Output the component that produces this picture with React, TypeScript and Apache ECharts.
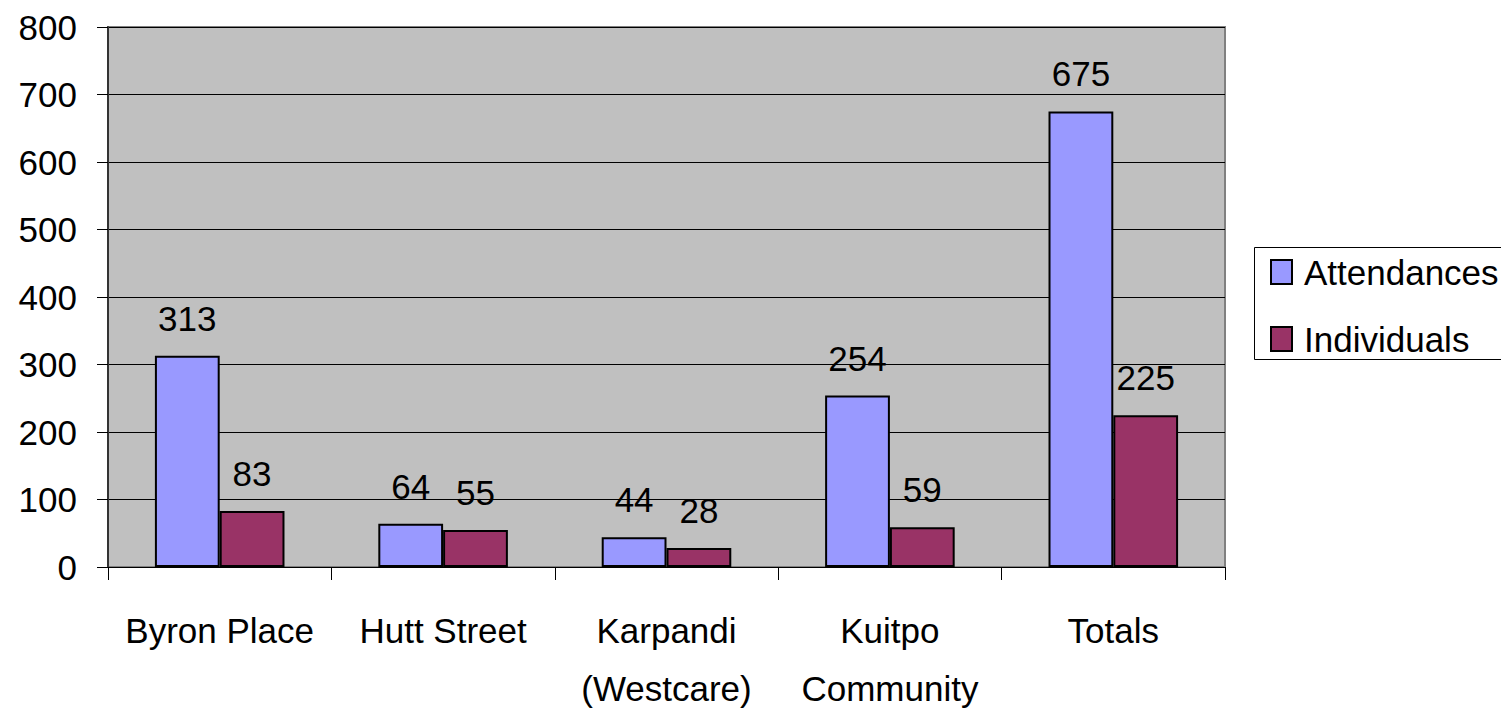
import React, { useEffect, useRef } from "react";
import * as echarts from "echarts";

const categories = ["Byron Place", "Hutt Street", "Karpandi\n(Westcare)", "Kuitpo\nCommunity", "Totals"];
const attendances = [313, 64, 44, 254, 675];
const individuals = [83, 55, 28, 59, 225];
const seriesNames = ["Attendances", "Individuals"];
const yMin = 0;
const yMax = 800;
const yStep = 100;

const FONT = "'Liberation Sans', Arial, sans-serif";
const FS = 35;

export default function App() {
  const ref = useRef<HTMLDivElement>(null);
  useEffect(() => {
    document.body.style.margin = "0";
    if (!ref.current) return;
    const chart = echarts.init(ref.current, null, { renderer: "svg" });
    const labelStyle = {
      show: true,
      position: "top" as const,
      distance: 20,
      fontSize: FS,
      fontFamily: FONT,
      color: "#000",
    };
    chart.setOption({
      animation: false,
      backgroundColor: "#fff",
      textStyle: { fontFamily: FONT },
      grid: {
        left: 108,
        right: 276,
        top: 27,
        bottom: 142,
        outerBoundsMode: "none",
        containLabel: false,
        show: true,
        backgroundColor: "#C0C0C0",
        borderColor: "#808080",
        borderWidth: 2,
      },
      legend: {
        orient: "vertical",
        left: 1265,
        top: 244,
        itemWidth: 21,
        itemHeight: 24,
        itemGap: 21,
        icon: "rect",
        textStyle: {
          fontSize: FS,
          fontFamily: FONT,
          color: "#000",
          lineHeight: 46,
          padding: [0, 0, 0, 7],
        },
        data: seriesNames,
      },
      graphic: [
        {
          type: "rect",
          left: 1252,
          top: 245,
          shape: { width: 248, height: 112 },
          style: { fill: "none", stroke: "#000", lineWidth: 1 },
          z: -1,
        },
      ],
      xAxis: {
        type: "category",
        data: categories,
        axisLine: { show: true, lineStyle: { color: "#000", width: 1 } },
        axisTick: { show: true, length: 13, lineStyle: { color: "#000" } },
        axisLabel: {
          fontSize: FS,
          fontFamily: FONT,
          color: "#000",
          margin: 34,
          lineHeight: 58,
          interval: 0,
        },
      },
      yAxis: {
        type: "value",
        min: yMin,
        max: yMax,
        interval: yStep,
        axisLine: { show: true, lineStyle: { color: "#333", width: 2 } },
        axisTick: { show: true, length: 11, lineStyle: { color: "#000" } },
        axisLabel: {
          fontSize: FS,
          fontFamily: FONT,
          color: "#000",
          margin: 31,
        },
        splitLine: { show: true, lineStyle: { color: "#000", width: 1 } },
      },
      series: [
        {
          name: seriesNames[0],
          type: "bar",
          data: attendances,
          barGap: "0%",
          barCategoryGap: "42%",
          itemStyle: { color: "#9999FF", borderColor: "#000", borderWidth: 2 },
          label: labelStyle,
        },
        {
          name: seriesNames[1],
          type: "bar",
          data: individuals,
          barGap: "0%",
          barCategoryGap: "42%",
          itemStyle: { color: "#993366", borderColor: "#000", borderWidth: 2 },
          label: labelStyle,
        },
      ],
    });
    return () => chart.dispose();
  }, []);
  return <div ref={ref} style={{ width: 1501, height: 709 }} />;
}
